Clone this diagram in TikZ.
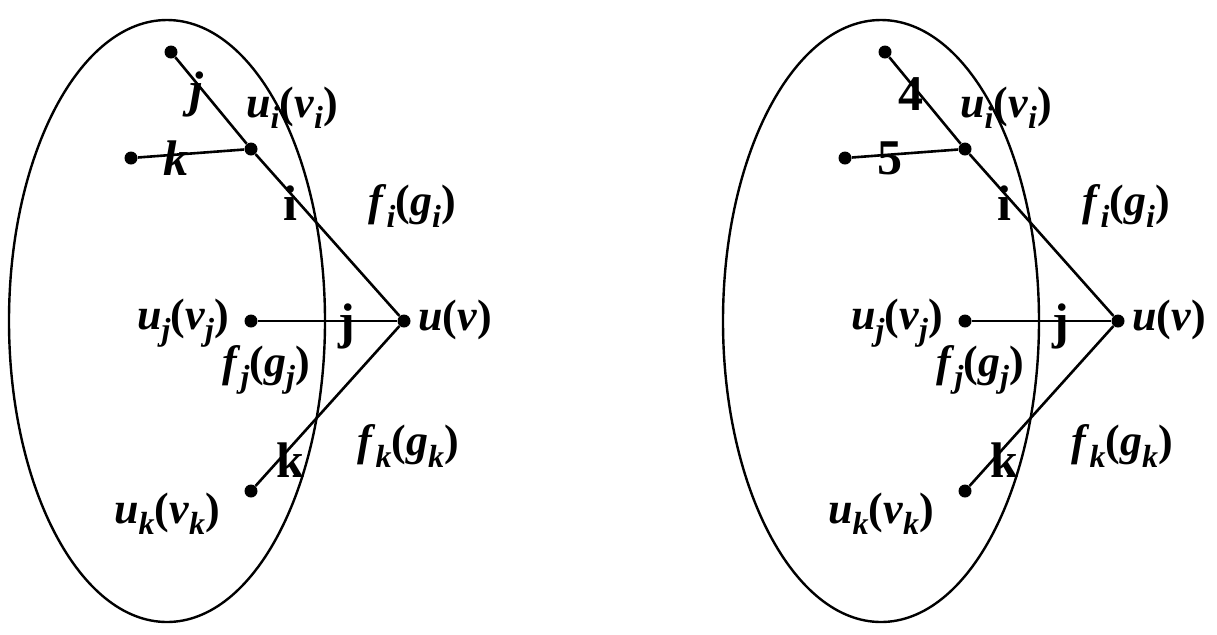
\documentclass[tikz,border=0pt]{standalone}
\usepackage{fontspec}
\setmainfont{Liberation Serif}
\usetikzlibrary{positioning}

\newcommand{\bi}[1]{\textbf{\textit{#1}}}
\newcommand{\sub}[1]{\raisebox{-0.55ex}{\fontsize{16}{16}\selectfont\bi{#1}}}
\newcommand{\lbl}[4]{\bi{#1}\sub{#2}\textbf{(}\bi{#3}\sub{#4}\textbf{)}}

\begin{document}
\begin{tikzpicture}[x=0.5pt, y=-0.5pt,
    dot/.style={circle, fill=black, inner sep=0pt, minimum size=6.5pt},
    link/.style={line width=1.3pt},
    region/.style={line width=1.2pt},
    lab/.style={font=\fontsize{22}{26}\selectfont, inner sep=1pt},
    elab/.style={font=\fontsize{25}{28}\selectfont, inner sep=1pt}
]
\useasboundingbox (0,0) rectangle (1217,634);
% two panels: edge names, then numbers
\foreach \dx/\ea/\eb/\p in {0/{\bi{j}}/{\bi{k}}/l, 714/{\textbf{4}}/{\textbf{5}}/r} {
  \begin{scope}[xshift=\dx*0.5pt]
    \draw[region] (167,321) ellipse [x radius=158, y radius=301];
    % vertices
    \node[dot] (uv\p) at (404,321) {};
    \node[dot] (ui\p) at (251,149) {};
    \node[dot] (uj\p) at (251,321) {};
    \node[dot] (uk\p) at (251,491) {};
    \node[dot] (a\p) at (171,52) {};
    \node[dot] (b\p) at (131,158) {};
    % edges
    \draw[link] (a\p) -- (ui\p) -- (uv\p);
    \draw[link] (b\p) -- (ui\p);
    \draw[link] (uj\p) -- (uv\p);
    \draw[link] (uk\p) -- (uv\p);
    % labels
    \node[elab] (la\p) at (197,94) {\ea};
    \node[elab] (lb\p) at (176,158) {\eb};
    \node[lab] (lui\p) at (292,108) {\lbl{u}{i}{v}{i}};
    \node[elab] (li\p) at (290,203) {\textbf{i}};
    \node[lab] (lfi\p) at (412,206) {\lbl{f}{i}{g}{i}};
    \node[lab] (luj\p) at (183,323) {\lbl{u}{j}{v}{j}};
    \node[elab] (lj\p) at (347,326) {\textbf{j}};
    \node[lab] (luv\p) at (455,320) {\bi{u}\textbf{(}\bi{v}\textbf{)}};
    \node[lab] (lfj\p) at (266,370) {\lbl{f}{j}{g}{j}};
    \node[elab] (lk\p) at (290,460) {\textbf{k}};
    \node[lab] (lfk\p) at (408,446) {\lbl{f}{k}{g}{k}};
    \node[lab] (luk\p) at (167,514) {\lbl{u}{k}{v}{k}};
  \end{scope}
}
\end{tikzpicture}
\end{document}
